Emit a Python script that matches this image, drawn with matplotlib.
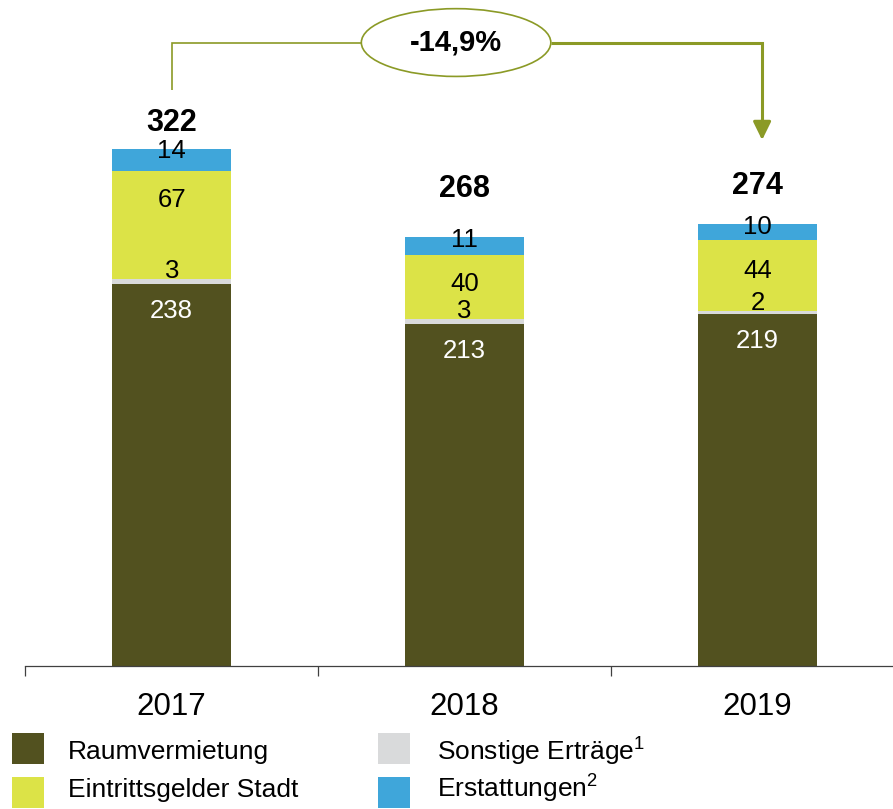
import matplotlib
matplotlib.use("Agg")
import matplotlib.pyplot as plt
from matplotlib.patches import Ellipse, Rectangle

plt.rcParams['font.family'] = ['Liberation Sans', 'DejaVu Sans']
plt.rcParams['mathtext.fontset'] = 'custom'
plt.rcParams['mathtext.rm'] = 'Liberation Sans'

# Erträge in Mio. EUR je Jahr
jahre = ["2017", "2018", "2019"]
raumvermietung = [238, 213, 219]
sonstige = [3, 3, 2]
eintritt = [67, 40, 44]
erstattungen = [14, 11, 10]
gesamt = [322, 268, 274]
veraenderung = "-14,9%"

farben = {
    "Raumvermietung": "#52511f",
    "Sonstige Erträge$^\\mathregular{1}$": "#d9dadb",
    "Eintrittsgelder Stadt": "#dce347",
    "Erstattungen$^\\mathregular{2}$": "#3fa6da",
}
linie = "#8b9a26"

W, H = 893, 809
fig = plt.figure(figsize=(W / 100, H / 100), dpi=100)
ax = fig.add_axes([25.3 / W, 143 / H, (W - 25.3) / W, 666 / H])

x = list(range(len(jahre)))
breite = 0.405

unten = [0] * 3
segmente = [
    (raumvermietung, "Raumvermietung"),
    (sonstige, "Sonstige Erträge$^\\mathregular{1}$"),
    (eintritt, "Eintrittsgelder Stadt"),
    (erstattungen, "Erstattungen$^\\mathregular{2}$"),
]
oberkanten = []
for werte, name in segmente:
    ax.bar(x, werte, breite, bottom=unten, color=farben[name], linewidth=0)
    unten = [u + w for u, w in zip(unten, werte)]
    oberkanten.append(list(unten))

# Beschriftung der Segmente
gelb_offset = [15.7, 2, 3]
summe_offset = [16, 29, 25]
fs = 18.5
for i in x:
    ax.text(i, oberkanten[0][i] - 16.7, str(raumvermietung[i]), ha="center",
            va="center", fontsize=fs, color="white")
    ax.text(i, oberkanten[1][i] + 5, str(sonstige[i]), ha="center",
            va="center", fontsize=fs, color="black")
    ax.text(i, oberkanten[2][i] - eintritt[i] / 2 + gelb_offset[i], str(eintritt[i]),
            ha="center", va="center", fontsize=fs, color="black")
    ax.text(i, oberkanten[3][i] - 1.5, str(erstattungen[i]), ha="center",
            va="center", fontsize=fs, color="black")
    ax.text(i, gesamt[i] + summe_offset[i], str(gesamt[i]), ha="center",
            va="center", fontsize=22, fontweight="bold", color="black")

ax.set_xlim(-0.5, 2.463)
ax.set_ylim(0, 666 / 1.606)

for s in ["top", "left", "right"]:
    ax.spines[s].set_visible(False)
ax.spines["bottom"].set_color("#404040")
ax.spines["bottom"].set_linewidth(0.9)
ax.set_yticks([])
ax.set_xticks(x)
ax.set_xticklabels(jahre, fontsize=22.5)
ax.tick_params(axis="x", which="major", length=0, pad=18.5)
ax.set_xticks([-0.5, 0.5, 1.5], minor=True)
ax.tick_params(axis="x", which="minor", length=7, width=0.9, color="#404040")

# Klammer mit Veränderung 2017 -> 2019
klammer_y = 388.2
ell_x, ell_w, ell_h = 0.971, 0.647, 42.2
ax.plot([0, 0, ell_x - ell_w / 2], [358.7, klammer_y, klammer_y],
        color=linie, lw=1.2, solid_joinstyle="miter", solid_capstyle="butt")
pfeil_x = 2.016
spitze = 327.5
ax.plot([ell_x + ell_w / 2, pfeil_x, pfeil_x], [klammer_y, klammer_y, spitze + 8],
        color=linie, lw=2.2, solid_joinstyle="miter", solid_capstyle="butt")
ax.annotate("", xy=(pfeil_x, spitze), xytext=(pfeil_x, spitze + 12),
            arrowprops=dict(arrowstyle="-|>,head_length=0.55,head_width=0.27",
                            mutation_scale=20, color=linie, lw=2.2,
                            shrinkA=0, shrinkB=0))
ax.add_patch(Ellipse((ell_x, klammer_y), ell_w, ell_h, facecolor="white",
                     edgecolor=linie, lw=1.2, zorder=3))
ax.text(ell_x, klammer_y, veraenderung, ha="center", va="center",
        fontsize=21, fontweight="bold", zorder=4)

# Legende
def fx(px):
    return px / W

def fy(py):
    return 1 - py / H

legende = [
    (segmente[0][1], 12, 733, 68, 759.5),
    (segmente[2][1], 12, 777.3, 68, 797),
    (segmente[1][1], 378.3, 733, 437.3, 759.5),
    (segmente[3][1], 378.3, 777.3, 437.3, 797),
]
for name, qx, qy, tx, ty in legende:
    fig.add_artist(Rectangle((fx(qx), fy(qy + 31)), 31.5 / W, 31 / H,
                             transform=fig.transFigure, facecolor=farben[name],
                             edgecolor="none"))
    fig.text(fx(tx), fy(ty), name, fontsize=19, va="baseline", ha="left")

fig.savefig("out.png", dpi=100)
